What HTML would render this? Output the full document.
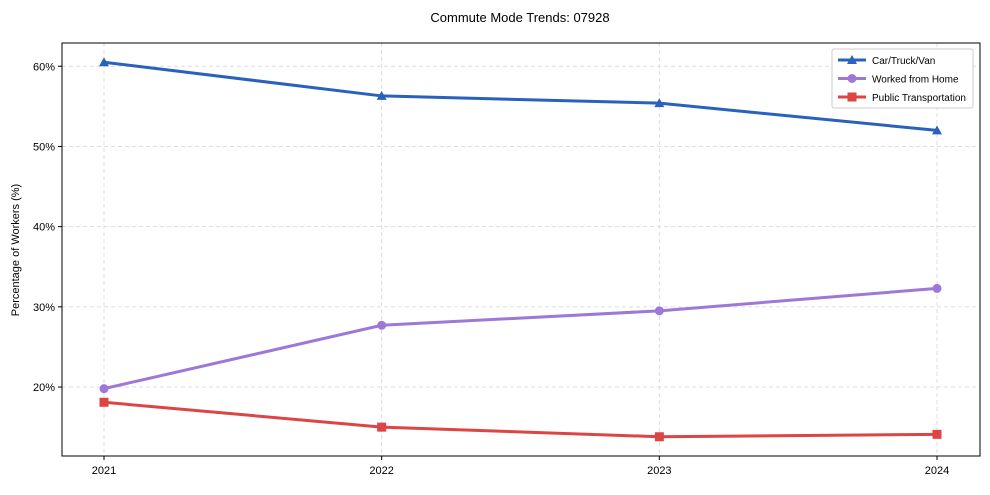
<!DOCTYPE html>
<html><head><meta charset="utf-8"><style>
body{margin:0;background:#fff;font-family:"Liberation Sans",Arial,sans-serif;}
svg text{font-family:"Liberation Sans",Arial,sans-serif;fill:#000;}
</style></head><body>
<svg id="chart" width="990" height="490">
<text x="520" y="22" font-size="13" text-anchor="middle">Commute Mode Trends: 07928</text>
<g id="grid"></g>
<g id="axes"></g>
<g id="series"></g>
<rect x="62" y="43" width="918" height="413" fill="none" stroke="#000" stroke-width="1"/>
<text transform="translate(19,250) rotate(-90)" font-size="11" text-anchor="middle">Percentage of Workers (%)</text>
<g>
<rect x="832" y="49" width="141" height="59" rx="2" fill="#fff" stroke="#ccc"/>
<g id="legend"></g>
</g>
</svg>
<script>
const years=["2021","2022","2023","2024"];
const carValues=[60.5,56.3,55.4,52.0];
const wfhValues=[19.8,27.7,29.5,32.3];
const ptValues=[18.1,15.0,13.8,14.1];
const yTicks=[20,30,40,50,60];
const seriesNames=["Car/Truck/Van","Worked from Home","Public Transportation"];

const NS="http://www.w3.org/2000/svg";
const X0=104,X1=937,Y_MIN=11.4,Y_MAX=62.9,PLOT_TOP=43,PLOT_BOT=456;
function xs(i){return X0+i*(X1-X0)/(years.length-1);}
function ys(v){return PLOT_BOT-(v-Y_MIN)/(Y_MAX-Y_MIN)*(PLOT_BOT-PLOT_TOP);}
function mk(tag,attrs,parent){const e=document.createElementNS(NS,tag);for(const k in attrs)e.setAttribute(k,attrs[k]);parent.appendChild(e);return e;}
const gridG=document.getElementById('grid'),axesG=document.getElementById('axes'),serG=document.getElementById('series'),legG=document.getElementById('legend');
years.forEach((y,i)=>{
 const l=mk('line',{x1:xs(i),x2:xs(i),y1:PLOT_TOP,y2:PLOT_BOT,stroke:'#ddd','stroke-dasharray':'4,3'},gridG);
 
 
 const t=mk('line',{x1:xs(i),x2:xs(i),y1:PLOT_BOT,y2:PLOT_BOT+4,stroke:'#000'},axesG);
 
 
 const tx=mk('text',{x:xs(i),y:PLOT_BOT+18,'font-size':'11','text-anchor':'middle'},axesG);
 tx.textContent=y;
 
 
});
yTicks.forEach(v=>{
 const l=mk('line',{x1:62,x2:980,y1:ys(v),y2:ys(v),stroke:'#ddd','stroke-dasharray':'4,3'},gridG);
 
 
 const t=mk('line',{x1:58,x2:62,y1:ys(v),y2:ys(v),stroke:'#000'},axesG);
 
 
 const tx=mk('text',{x:55,y:ys(v)+4,'font-size':'11','text-anchor':'end'},axesG);
 tx.textContent=v+'%';
 
 
});
function marker(type,cx,cy,color,parent,name){
 let e;
 if(type==='tri')e=mk('polygon',{points:`${cx},${cy-5} ${cx-5},${cy+4} ${cx+5},${cy+4}`,fill:color},parent);
 else if(type==='circ')e=mk('circle',{cx:cx,cy:cy,r:4.5,fill:color},parent);
 else e=mk('rect',{x:cx-4.5,y:cy-4.5,width:9,height:9,fill:color},parent);
 
 
}
const defs=[[carValues,'#2a62bb','tri','car'],[wfhValues,'#9d78d9','circ','wfh'],[ptValues,'#dd4444','sq','public-transport']];
defs.forEach((d,si)=>{
 const [vals,c,m,n]=d;
 const p=mk('polyline',{points:vals.map((v,i)=>xs(i)+','+ys(v)).join(' '),fill:'none',stroke:c,'stroke-width':3},serG);
 
 
 vals.forEach((v,i)=>marker(m,xs(i),ys(v),c,serG,n+'-point'));
 const ly=60+si*18.5;
 const ll=mk('line',{x1:838,x2:866,y1:ly,y2:ly,stroke:c,'stroke-width':3},legG);
 
 
 marker(m,852,ly,c,legG,'legend-entry-marker');
 const t=mk('text',{x:872,y:ly+4,'font-size':'10'},legG);
 t.textContent=seriesNames[si];
 
 
});
</script>
</body></html>
